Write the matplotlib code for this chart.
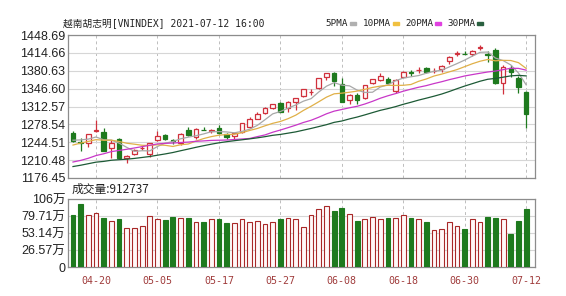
import numpy as np
import pandas as pd
import matplotlib
matplotlib.use('Agg')
import matplotlib.pyplot as plt
from matplotlib.patches import Rectangle

plt.rcParams['font.family'] = ['Liberation Sans', 'Noto Sans CJK SC']

title = '越南胡志明[VNINDEX] 2021-07-12 16:00'
holidays = ['2021-04-21', '2021-04-30', '2021-05-03']
dates = pd.bdate_range('2021-04-15', '2021-07-12', freq='C', holidays=holidays)
date_ticks = ['04-20', '05-05', '05-17', '05-27', '06-08', '06-18', '06-30', '07-12']

# closes before the first shown bar (only used for the moving averages)
prior_close = [1168, 1172, 1180, 1185, 1178, 1183, 1190, 1186, 1180, 1188,
               1182, 1178, 1165, 1160, 1162, 1170, 1175, 1180, 1183, 1191,
               1205, 1228, 1235, 1240, 1242, 1240, 1252, 1248, 1255]

open_ = [1262.7, 1245, 1243.6, 1266, 1263.4, 1233, 1250, 1214, 1222, 1233,
         1222, 1248.8, 1258.3, 1248, 1242.5, 1267.8, 1255, 1268, 1266, 1272.2,
         1259.6, 1256.4, 1264.6, 1274, 1289.3, 1301, 1309, 1319.8, 1309, 1321.7,
         1333, 1340, 1347, 1369, 1376.9, 1355.4, 1324.9, 1334.4, 1328, 1356.7,
         1363, 1364.3, 1342.6, 1369.3, 1377.5, 1381.5, 1385.2, 1380, 1384, 1399.7,
         1413, 1413, 1412.5, 1424, 1412, 1420, 1356.7, 1385.2, 1367.4, 1339.6]
high = [1266.5, 1252, 1260.5, 1287, 1271, 1248, 1252.6, 1220.2, 1232, 1237.4,
        1243, 1265.9, 1260.2, 1251, 1262, 1274, 1272, 1273, 1270, 1277.4,
        1261.5, 1262, 1282, 1293, 1302, 1311, 1318, 1321, 1323, 1329,
        1346, 1345, 1367, 1376, 1378, 1366, 1336, 1338, 1354, 1365,
        1375.7, 1369, 1365, 1380, 1383, 1387, 1388, 1385, 1391, 1408,
        1419, 1418, 1419.5, 1430, 1418, 1424, 1391.6, 1391, 1371, 1342]
low = [1245, 1228, 1235, 1264, 1227.8, 1214, 1213.6, 1204.4, 1220, 1230,
       1215.9, 1247, 1248, 1241, 1240, 1257, 1250, 1267, 1263, 1260,
       1250.1, 1250, 1262, 1272, 1288, 1299, 1307, 1302, 1302.7, 1306,
       1331, 1334, 1346, 1363, 1351.6, 1321, 1317, 1318, 1327, 1355,
       1362, 1355, 1337.7, 1368, 1370, 1377, 1376, 1376, 1379, 1393.5,
       1408, 1412, 1408.5, 1420, 1398, 1356, 1336.4, 1369.3, 1337.7, 1271.1]
close = [1246.9, 1243, 1259.6, 1268, 1228.4, 1244, 1214.5, 1219, 1229.8, 1234.5,
         1242.5, 1256.4, 1250.1, 1246, 1260.2, 1258.3, 1269.7, 1267.5, 1267, 1261.5,
         1255.1, 1261.5, 1280.5, 1288, 1298.3, 1309, 1317, 1302.7, 1320.5, 1328.2,
         1345.3, 1341, 1366, 1375.7, 1361.7, 1321.7, 1334.4, 1325, 1353.5, 1364.3,
         1370.6, 1356.7, 1363, 1378.8, 1376.5, 1382.5, 1378.8, 1381, 1390.2, 1407.3,
         1414, 1412.5, 1418.8, 1426, 1410, 1356.7, 1388.3, 1377.6, 1349.1, 1297.7]
# volume in 万
volume = [81.5, 98.7, 81.5, 84.2, 76.4, 72.2, 74.8, 60.8, 60.8, 64.4,
          80.0, 74.8, 73.7, 77.9, 76.4, 76.4, 70.1, 70.1, 74.8, 75.3,
          69.6, 68.6, 74.8, 71.1, 72.2, 67.5, 70.6, 74.8, 76.9, 74.8,
          62.3, 81.5, 90.4, 95.6, 87.8, 92.4, 83.1, 72.2, 74.8, 77.9,
          74.8, 76.9, 76.9, 81.5, 76.9, 74.8, 70.6, 58.1, 59.7, 70.6,
          64.4, 59.7, 74.8, 70.6, 78.4, 76.9, 74.8, 51.9, 72.2, 91.2737]

price_ticks = [1176.45, 1210.48, 1244.51, 1278.54, 1312.57, 1346.60, 1380.63, 1414.66, 1448.69]
vol_ticks = [0, 26.57, 53.14, 79.71, 106.28]
vol_labels = ['0', '26.57万', '53.14万', '79.71万', '106万']

ma_names = ['5PMA', '10PMA', '20PMA', '30PMA']
ma_windows = [5, 10, 20, 30]
ma_colors = ['#a8a8a8', '#e0b048', '#c837c8', '#1d5a36']

up_edge = '#d0303c'
down_col = '#1e7a1e'
vol_up_edge = '#a82828'

n = len(close)
x = np.arange(n)
all_close = pd.Series(prior_close + close)

fig = plt.figure(figsize=(5.66, 2.96), dpi=100)
ax = fig.add_axes([68 / 566, 1 - 178 / 296, 467 / 566, 143 / 296])
ax2 = fig.add_axes([68 / 566, 1 - 267.3 / 296, 467 / 566, 68 / 296])

tick_pos = [list(dates.strftime('%m-%d')).index(d) for d in date_ticks]

for a in (ax, ax2):
    a.set_xlim(-0.65, n - 1 + 1.15)
    for s in a.spines.values():
        s.set_color('#8c8c8c')
        s.set_linewidth(0.9)
    a.tick_params(length=0)
    for p in tick_pos:
        a.axvline(p, color='#bdbdbd', lw=0.7, ls=(0, (3, 3)), zorder=0)

# candles
for i in x:
    o, h, l, c = open_[i], high[i], low[i], close[i]
    up = c >= o
    col = up_edge if up else down_col
    ax.vlines(i, l, h, color=col, lw=0.9, zorder=2)
    ax.bar(i, max(abs(c - o), 0.7), bottom=min(o, c), width=0.6,
           facecolor='#fffafa' if up else down_col, edgecolor=col, lw=0.9, zorder=3)

for name, w, col in zip(ma_names, ma_windows, ma_colors):
    ma = all_close.rolling(w).mean().values[-n:]
    ax.plot(x, ma, color=col, lw=0.9, zorder=4)

ax.set_ylim(price_ticks[0], price_ticks[-1])
ax.set_yticks(price_ticks)
ax.set_yticklabels([f'{t:.2f}' for t in price_ticks], fontsize=9, color='#222222')
ax.tick_params(axis='y', pad=2)
ax.set_xticks([])
ax.grid(axis='y', color='#d6d6d6', lw=0.8)
ax.set_axisbelow(True)

# volume
for i in x:
    up = close[i] >= open_[i]
    ax2.bar(i, volume[i], width=0.62, facecolor='#fff8f8' if up else down_col,
            edgecolor=vol_up_edge if up else down_col, lw=0.8, zorder=3)
ax2.set_ylim(0, vol_ticks[-1])
ax2.set_yticks(vol_ticks)
ax2.set_yticklabels(vol_labels, fontsize=9, color='#222222')
ax2.tick_params(axis='y', pad=2)
ax2.grid(axis='y', color='#d6d6d6', lw=0.8)
ax2.set_axisbelow(True)
ax2.set_xticks(tick_pos)
ax2.set_xticklabels(date_ticks, fontsize=7.2, color='#a03c3c', family='DejaVu Sans Mono')
ax2.tick_params(axis='x', pad=6)

# header texts
fig.text(63 / 566, 1 - 23 / 296, title, fontsize=7, va='center', color='#222222',
         family=['DejaVu Sans Mono', 'Noto Sans CJK SC'])
leg_x = [325, 363, 405, 447]
mark_x = [350, 393, 435, 477]
leg_cols = ['#b0b0b0', '#f0c040', '#e040e0', '#2a6040']
for name, lx, mx, col in zip(ma_names, leg_x, mark_x, leg_cols):
    fig.text(lx / 566, 1 - 23 / 296, name, fontsize=6.7, va='center', color='#222222',
             family='DejaVu Sans Mono')
    fig.patches.append(Rectangle((mx / 566, 1 - 24.5 / 296), 6 / 566, 3 / 296,
                                 transform=fig.transFigure, color=col))

fig.text(72 / 566, 1 - 189 / 296, '成交量:' + str(int(round(volume[-1] * 10000))),
         fontsize=8.5, va='center', color='#222222', family=['Noto Sans CJK SC'])

fig.savefig('out.png', dpi=100)
